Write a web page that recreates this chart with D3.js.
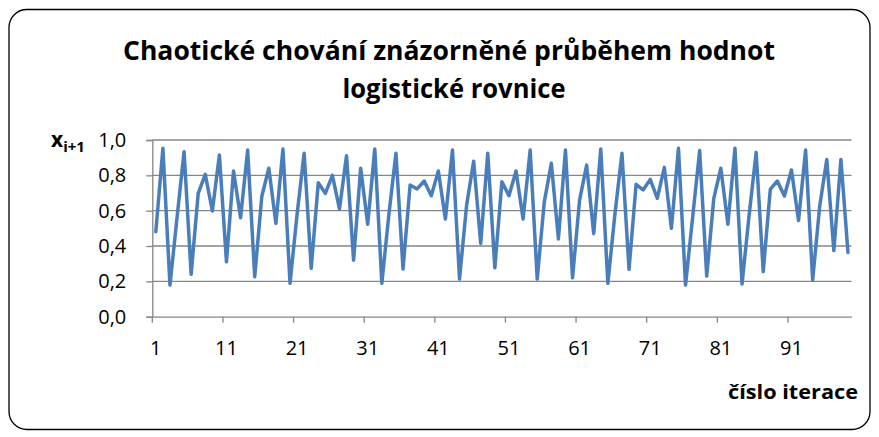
<!DOCTYPE html>
<html>
<head>
<meta charset="utf-8">
<script src="https://cdn.jsdelivr.net/npm/d3@7"></script>
<style>
  html, body { margin: 0; padding: 0; background: #ffffff; }
  svg { display: block; }
</style>
</head>
<body>
<svg id="chart" width="879" height="437"></svg>
<script>
// ---- data ----
const titleLines = ["Chaotické chování znázorněné průběhem hodnot", "logistické rovnice"];
const xAxisTitle = "číslo iterace";
const categories = d3.range(1, 100); // iterations 1..99
const values = [
  0.481, 0.953, 0.179, 0.56, 0.934, 0.24, 0.698, 0.806, 0.598, 0.915,
  0.311, 0.825, 0.56, 0.943, 0.226, 0.68, 0.84, 0.528, 0.949, 0.189,
  0.58, 0.925, 0.274, 0.758, 0.698, 0.80, 0.61, 0.911, 0.32, 0.84,
  0.523, 0.949, 0.189, 0.58, 0.925, 0.27, 0.745, 0.723, 0.768, 0.685,
  0.825, 0.553, 0.943, 0.213, 0.63, 0.88, 0.415, 0.925, 0.277, 0.764,
  0.685, 0.825, 0.553, 0.943, 0.213, 0.65, 0.868, 0.44, 0.943, 0.22,
  0.66, 0.858, 0.47, 0.949, 0.189, 0.58, 0.925, 0.268, 0.749, 0.717,
  0.777, 0.67, 0.845, 0.50, 0.953, 0.179, 0.56, 0.94, 0.23, 0.67,
  0.84, 0.523, 0.953, 0.185, 0.573, 0.93, 0.255, 0.72, 0.768, 0.683,
  0.83, 0.545, 0.943, 0.208, 0.626, 0.89, 0.374, 0.89, 0.364
];
const yTicks = [0, 0.2, 0.4, 0.6, 0.8, 1.0];
const xTickLabels = [1, 11, 21, 31, 41, 51, 61, 71, 81, 91];

// ---- layout ----
const svg = d3.select("#chart");
const plot = { left: 152.3, right: 851.5, top: 140, bottom: 316.7 };
const gridColor = "#868686";
const lineColor = "#4a7ebb";
const fontFamily = "'Open Sans', 'Noto Sans', sans-serif";

// outer chart border
svg.append("rect")
  .attr("x", 9).attr("y", 9.5)
  .attr("width", 861).attr("height", 420)
  .attr("rx", 18).attr("ry", 18)
  .attr("fill", "#ffffff")
  .attr("stroke", "#000000")
  .attr("stroke-width", 1.3);

// scales
const x = d3.scaleBand().domain(categories).range([plot.left, plot.right]).padding(0);
const y = d3.scaleLinear().domain([0, 1]).range([plot.bottom, plot.top]);

// gridlines
svg.append("g")
  .selectAll("line")
  .data(yTicks.filter(d => d > 0))
  .join("line")
  .attr("x1", plot.left).attr("x2", plot.right)
  .attr("y1", d => y(d)).attr("y2", d => y(d))
  .attr("stroke", gridColor).attr("stroke-width", 1.3);

// y axis
const fmt = d => d3.format(".1f")(d).replace(".", ",");
const yAxis = svg.append("g")
  .attr("transform", `translate(${plot.left},0)`)
  .call(d3.axisLeft(y).tickValues(yTicks).tickFormat(fmt).tickSize(6).tickPadding(20));
yAxis.select(".domain").attr("stroke", gridColor).attr("stroke-width", 1.3);
yAxis.selectAll(".tick line").attr("stroke", gridColor).attr("stroke-width", 1.3);
yAxis.selectAll(".tick text")
  .attr("font-family", fontFamily).attr("font-size", 20).attr("fill", "#000");

// x axis
const xAxis = svg.append("g")
  .attr("transform", `translate(0,${plot.bottom})`)
  .call(d3.axisBottom(x).tickValues(xTickLabels).tickFormat(d => d).tickSize(0).tickPadding(24));
xAxis.select(".domain").attr("stroke", gridColor).attr("stroke-width", 1.3);
xAxis.selectAll(".tick text")
  .attr("font-family", fontFamily).attr("font-size", 20).attr("fill", "#000");
// tick marks at category boundaries every 10 categories
svg.append("g")
  .selectAll("line")
  .data(xTickLabels)
  .join("line")
  .attr("x1", d => x(d)).attr("x2", d => x(d))
  .attr("y1", plot.bottom).attr("y2", plot.bottom + 6)
  .attr("stroke", gridColor).attr("stroke-width", 1.3);

// data line
const line = d3.line()
  .x((d, i) => x(categories[i]) + x.bandwidth() / 2)
  .y(d => y(d));
svg.append("path")
  .datum(values)
  .attr("d", line)
  .attr("fill", "none")
  .attr("stroke", lineColor)
  .attr("stroke-width", 3.5)
  .attr("stroke-linejoin", "round")
  .attr("stroke-linecap", "round");

// title
const title = svg.append("g")
  .attr("font-family", fontFamily)
  .attr("font-weight", "bold")
  .attr("font-size", 27)
  .attr("text-anchor", "middle")
  .attr("fill", "#000");
title.append("text").attr("x", 449).attr("y", 60).text(titleLines[0])
  .attr("textLength", 652).attr("lengthAdjust", "spacingAndGlyphs");
title.append("text").attr("x", 454).attr("y", 98).text(titleLines[1])
  .attr("textLength", 223).attr("lengthAdjust", "spacingAndGlyphs");

// y axis title x_{i+1}
const yt = svg.append("text")
  .attr("x", 51).attr("y", 147)
  .attr("font-family", fontFamily)
  .attr("font-weight", "bold")
  .attr("font-size", 21)
  .attr("fill", "#000");
yt.append("tspan").text("x");
yt.append("tspan").attr("dy", 5).attr("font-size", 15).text("i+1");

// x axis title
svg.append("text")
  .attr("x", 858).attr("y", 399)
  .attr("text-anchor", "end")
  .attr("font-family", fontFamily)
  .attr("font-weight", "bold")
  .attr("font-size", 20)
  .attr("fill", "#000")
  .attr("textLength", 130).attr("lengthAdjust", "spacingAndGlyphs")
  .text(xAxisTitle);
</script>
</body>
</html>
